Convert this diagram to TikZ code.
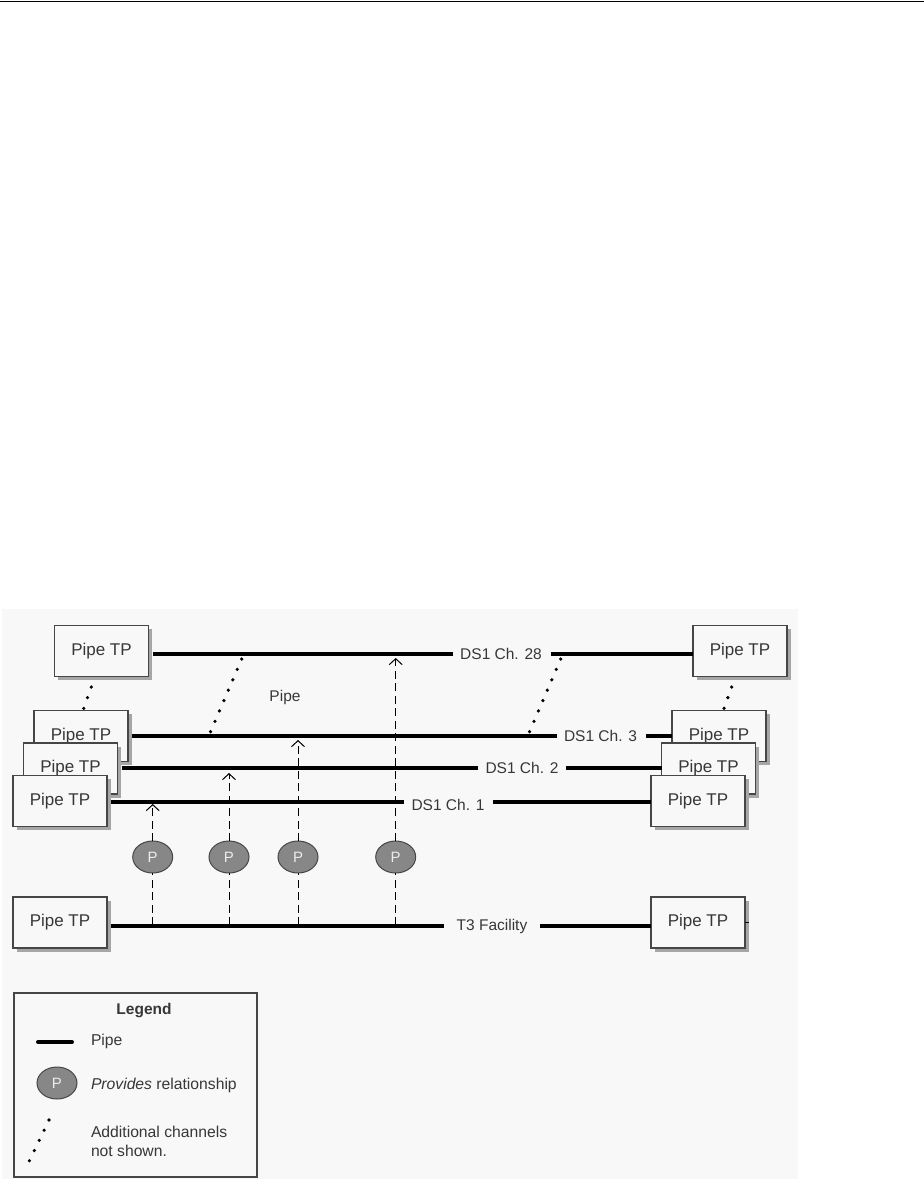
\documentclass[tikz,border=0pt]{standalone}
\usepackage{fontspec}
\setmainfont{Liberation Sans}
\usetikzlibrary{arrows.meta, shadows, calc, shapes.geometric}
\definecolor{panelgray}{RGB}{248,248,248}
\definecolor{boxline}{RGB}{70,70,70}
\definecolor{labelgray}{RGB}{55,55,55}
\definecolor{pgray}{RGB}{135,135,135}
\tikzset{
  pipetp/.style={draw=boxline,line width=1.2pt,fill=panelgray,minimum width=94pt,minimum height=51pt,
    inner sep=0pt,outer sep=0pt,text=labelgray,font=\fontsize{17}{18}\selectfont,
    drop shadow={shadow xshift=3.5pt,shadow yshift=-3.5pt,fill=gray!70,opacity=1}},
  chlabel/.style={inner sep=0pt,outer sep=0pt,text=labelgray,font=\fontsize{15.5}{18}\selectfont},
  keylabel/.style={chlabel,anchor=west,font=\fontsize{15.7}{19}\selectfont},
  pipeline/.style={line width=3.6pt},
  morech/.style={line width=3.6pt,line cap=round,dash pattern=on 0pt off 11.3pt},
  provides/.style={draw=boxline,line width=1pt,fill=pgray,ellipse,minimum width=40pt,minimum height=32pt,
    inner sep=0pt,outer sep=0pt,text=white!85!gray,font=\fontsize{15}{18}\selectfont},
  reldash/.style={line width=1pt,dash pattern=on 8pt off 4.5pt},
  relarrow/.style={reldash,-{Straight Barb[length=6pt,width=13pt,line width=1pt]}},
}
\begin{document}
\begin{tikzpicture}[x=1pt,y=-1pt]
  \useasboundingbox (0,0) rectangle (924,1179);
  \fill[panelgray] (2,609) rectangle (798,1179);
  \draw[line width=1.2pt] (0,1.2)--(924,1.2);
  % Left stack
  \node[pipetp] (tpLd) at (101.5,651) {Pipe TP};
  \node[pipetp] (tpLc) at (81,736) {Pipe TP};
  \node[pipetp] (tpLb) at (70.5,768.5) {Pipe TP};
  \node[pipetp] (tpLa) at (60,801) {Pipe TP};
  \node[pipetp] (tpLt) at (60,922.5) {Pipe TP};
  % Right stack
  \node[pipetp] (tpRd) at (740,651) {Pipe TP};
  \node[pipetp] (tpRc) at (719,736) {Pipe TP};
  \node[pipetp] (tpRb) at (708.5,768.5) {Pipe TP};
  \node[pipetp] (tpRa) at (698,801) {Pipe TP};
  \node[pipetp] (tpRt) at (698,922.5) {Pipe TP};
  % Channel labels
  \node[chlabel] (chd) at (501,653.5) {DS1 Ch. 28};
  \node[chlabel] (chc) at (600.5,735.5) {DS1 Ch. 3};
  \node[chlabel] (chb) at (522,768) {DS1 Ch. 2};
  \node[chlabel] (cha) at (448,804.5) {DS1 Ch. 1};
  \node[chlabel] (cht) at (492,926.5) {T3 Facility};
  \node[chlabel] (pipelabel) at (285,697) {Pipe};
  % Pipes
  \draw[pipeline] ($(tpLd.east)+(4,3)$)--($(chd.west)+(-7,0.5)$);
  \draw[pipeline] ($(chd.east)+(9,0.5)$)--($(tpRd.west)+(0,3)$);
  \draw[pipeline] ($(tpLc.east)+(4,0)$)--($(chc.west)+(-7,0.5)$);
  \draw[pipeline] ($(chc.east)+(9,0.5)$)--(tpRc.west);
  \draw[pipeline] ($(tpLb.east)+(4,-0.5)$)--($(chb.west)+(-8,0)$);
  \draw[pipeline] ($(chb.east)+(8,0)$)--($(tpRb.west)+(0,-0.5)$);
  \draw[pipeline] ($(tpLa.east)+(4,1)$)--($(cha.west)+(-8,-2.5)$);
  \draw[pipeline] ($(cha.east)+(9,-2.5)$)--($(tpRa.west)+(0,1)$);
  \draw[pipeline] ($(tpLt.east)+(4,3.5)$)--($(cht.west)+(-13,-0.5)$);
  \draw[pipeline] ($(cht.east)+(13,-0.5)$)--($(tpRt.west)+(0,3.5)$);
  \draw[line width=1pt] (tpRt.east)--++(3.5,0);
  % Additional channels
  \coordinate (dotAt) at (241.7,659);
  \coordinate (dotAb) at (210,733);
  \coordinate (dotBt) at (560.7,659);
  \coordinate (dotBb) at (529,733);
  \coordinate (dotLt) at (91.3,687);
  \coordinate (dotLb) at (83.7,708.5);
  \coordinate (dotRt) at (731.7,687);
  \coordinate (dotRb) at (724,708.5);
  \draw[morech] (dotAt)--(dotAb);
  \draw[morech] (dotBt)--(dotBb);
  \draw[morech] (dotLt)--(dotLb);
  \draw[morech] (dotRt)--(dotRb);
  % Provides relationships
  \foreach \name/\x/\ytop in {a/152.7/804,b/229/773,c/298/740,d/395.7/658}{
    \node[provides] (p\name) at (\x,857) {P};
    \coordinate (ptop\name) at (\x,\ytop);
    \coordinate (pbot\name) at (\x,925);
    \draw[reldash] (pbot\name)--(p\name.south);
    \draw[relarrow] (p\name.north)--(ptop\name);
  }
  % Legend
  \node[draw=boxline,line width=1.2pt,fill=panelgray,minimum width=243pt,minimum height=184pt,inner sep=0pt,
    drop shadow={shadow xshift=1pt,shadow yshift=-1pt,fill=gray!70,opacity=1}] (legend) at (135.5,1085) {};
  \node[chlabel,font=\fontsize{15.5}{18}\selectfont\bfseries] (legendtitle) at (144,1011) {Legend};
  \coordinate (keyl) at (38,1042);
  \coordinate (keyr) at (72,1042);
  \draw[pipeline,line width=4pt,line cap=round] (keyl)--(keyr);
  \node[keylabel] (keypipe) at (91,1041) {Pipe};
  \node[provides] (keyp) at (57,1083) {P};
  \node[keylabel] (keyprov) at (91,1085) {\textit{Provides} relationship};
  \coordinate (keydt) at (49,1120);
  \coordinate (keydb) at (29.3,1161);
  \draw[morech] (keydt)--(keydb);
  \node[keylabel,align=left] (keydots) at (91,1141.5) {Additional channels\\not shown.};
\end{tikzpicture}
\end{document}
